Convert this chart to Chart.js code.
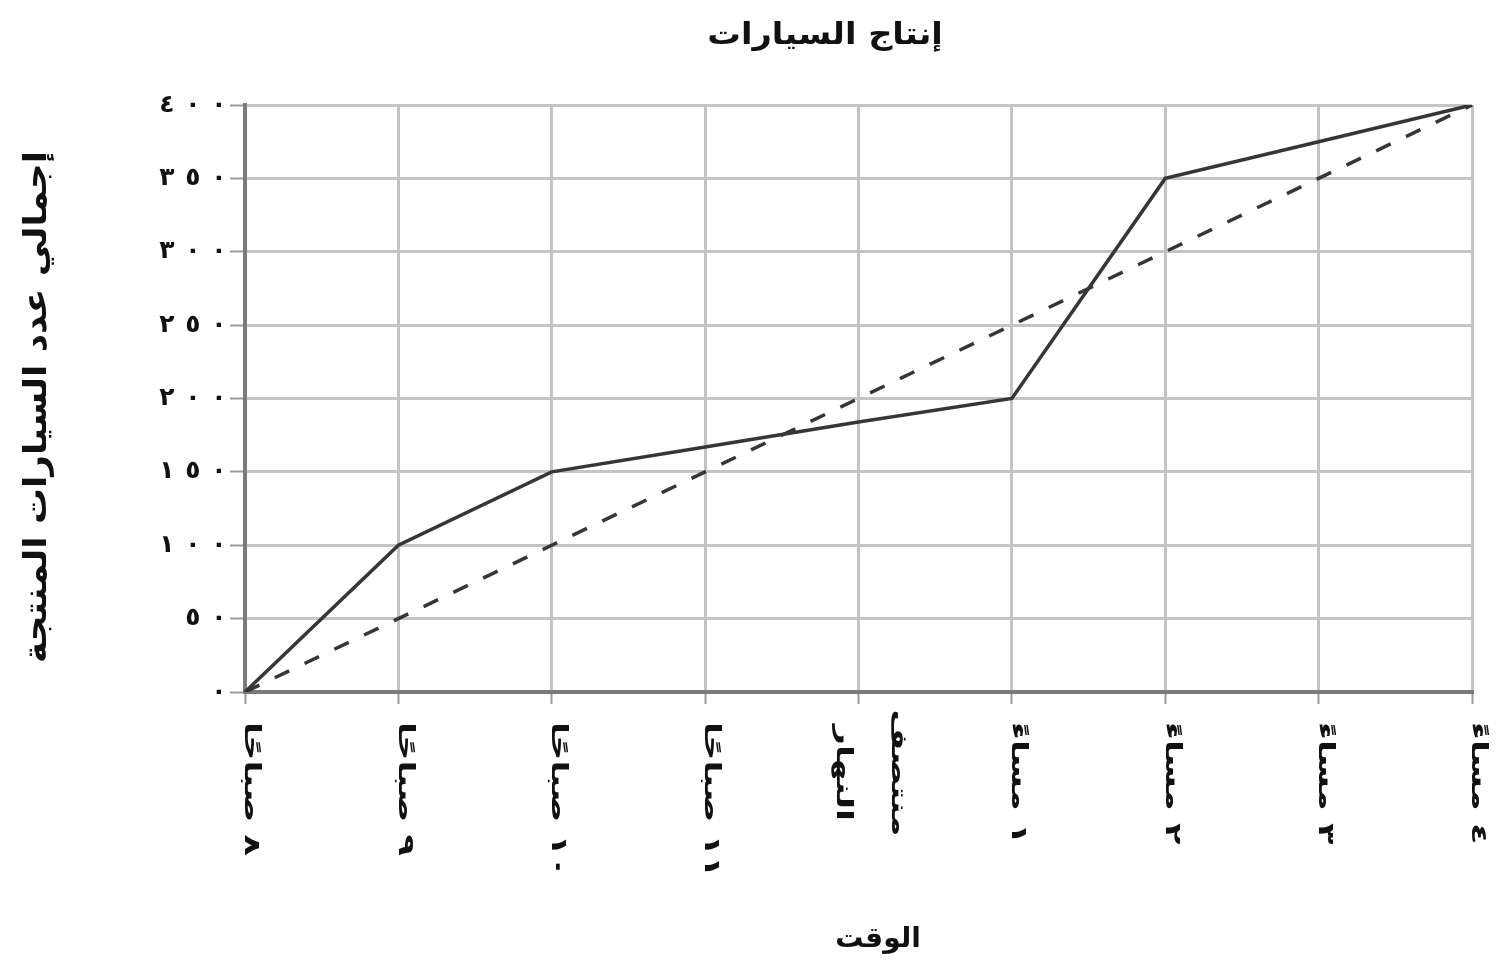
<!DOCTYPE html>
<html lang="ar">
<head>
<meta charset="utf-8">
<script src="https://cdn.jsdelivr.net/npm/chart.js@4/dist/chart.umd.min.js"></script>
<style>
  html, body { margin: 0; padding: 0; background: #ffffff; }
  #wrap { width: 1506px; height: 969px; position: relative; }
</style>
</head>
<body>
<div id="wrap"><canvas id="c" width="1506" height="969"></canvas></div>
<script>
const chartTitle = 'إنتاج السيارات';
const xAxisTitle = 'الوقت';
const yAxisTitle = 'إجمالي عدد السيارات المنتجة';
const categories = ['٨ صباحًا', '٩ صباحًا', '١٠ صباحًا', '١١ صباحًا', ['منتصف', 'النهار'], '١ مساءً', '٢ مساءً', '٣ مساءً', '٤ مساءً'];
const actualProduction = [0, 100, 150, 167, 184, 200, 350, 375, 400];
const plannedProduction = [0, 50, 100, 150, 200, 250, 300, 350, 400];
const yTickLabels = ['٠', '٥٠', '١٠٠', '١٥٠', '٢٠٠', '٢٥٠', '٣٠٠', '٣٥٠', '٤٠٠'];

const FONT = '"DejaVu Sans", "Noto Sans", sans-serif';
const INK = '#111111';

function stretchedText(ctx, txt, x, y, angle, sx, align) {
  ctx.save();
  ctx.translate(x, y);
  ctx.rotate(angle);
  ctx.scale(sx, 1);
  ctx.textAlign = align;
  ctx.fillText(txt, 0, 0);
  ctx.restore();
}

const textPlugin = {
  id: 'textPlugin',
  afterDraw(chart) {
    const ctx = chart.ctx;
    const xs = chart.scales.x;
    const ys = chart.scales.y;
    ctx.save();
    ctx.fillStyle = INK;
    ctx.direction = 'rtl';
    ctx.textBaseline = 'middle';
    // chart title
    ctx.font = 'bold 30px ' + FONT;
    stretchedText(ctx, chartTitle, 825, 36, 0, 1.12, 'center');
    // x axis title
    ctx.font = 'bold 28px ' + FONT;
    stretchedText(ctx, xAxisTitle, 878, 940, 0, 1.0, 'center');
    // y axis title
    ctx.font = 'bold 32px ' + FONT;
    stretchedText(ctx, yAxisTitle, 38, 407, -Math.PI / 2, 1.12, 'center');
    // y tick labels, widely spaced digits
    ctx.font = 'bold 25px ' + FONT;
    ctx.direction = 'ltr';
    ys.ticks.forEach((t, i) => {
      const s = yTickLabels[i];
      if (s === undefined) return;
      const y = ys.getPixelForValue(t.value);
      const chars = Array.from(s);
      chars.forEach((ch, k) => {
        const cx = 219 - (chars.length - 1 - k) * 26;
        stretchedText(ctx, ch, cx, y, 0, 1, 'center');
      });
    });
    ctx.direction = 'rtl';
    // x tick labels, rotated clockwise
    ctx.font = 'bold 22px ' + FONT;
    categories.forEach((lab, i) => {
      const x = xs.getPixelForValue(i);
      if (Array.isArray(lab)) {
        const lh = 55;
        lab.forEach((ln, k) => {
          const off = (k - (lab.length - 1) / 2) * lh;
          stretchedText(ctx, ln, x + 12 - off, 773, Math.PI / 2, 1.6, 'center');
        });
      } else {
        stretchedText(ctx, lab, x + 6, 722, Math.PI / 2, 1.6, 'left');
      }
    });
    ctx.restore();
  }
};

new Chart(document.getElementById('c'), {
  type: 'line',
  data: {
    labels: categories,
    datasets: [
      {
        label: 'actual',
        data: actualProduction,
        borderColor: '#363636',
        borderWidth: 3.5,
        pointRadius: 0,
        tension: 0,
        fill: false
      },
      {
        label: 'planned',
        data: plannedProduction,
        borderColor: '#363636',
        borderWidth: 3.5,
        borderDash: [16, 17],
        pointRadius: 0,
        tension: 0,
        fill: false
      }
    ]
  },
  options: {
    responsive: false,
    animation: false,
    devicePixelRatio: 1,
    layout: { padding: { left: 0, right: 34, top: 105, bottom: 0 } },
    plugins: {
      legend: { display: false },
      title: { display: false },
      tooltip: { enabled: false }
    },
    scales: {
      x: {
        type: 'category',
        offset: false,
        grid: { color: '#c4c4c4', lineWidth: 3, drawTicks: true, tickLength: 12, tickColor: '#9a9a9a', tickWidth: 2 },
        border: { color: '#7a7a7a', width: 4 },
        ticks: { display: false, autoSkip: false },
        afterFit(s) { s.height = 969 - 692; }
      },
      y: {
        min: 0,
        max: 400,
        ticks: { stepSize: 50, display: false },
        grid: { color: '#c4c4c4', lineWidth: 3, drawTicks: true, tickLength: 15, tickColor: '#9a9a9a', tickWidth: 2 },
        border: { color: '#7a7a7a', width: 4 },
        afterFit(s) { s.width = 245; }
      }
    }
  },
  plugins: [textPlugin]
});
</script>
</body>
</html>
